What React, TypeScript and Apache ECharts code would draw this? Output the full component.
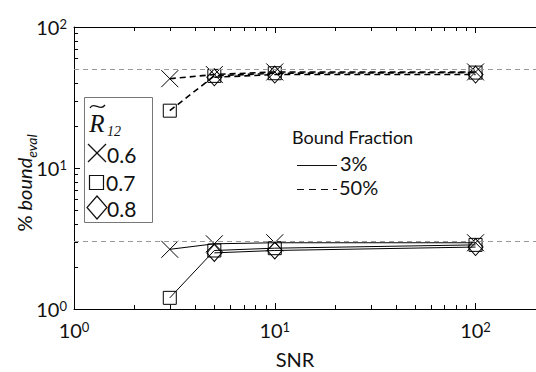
import React, { useEffect, useRef } from "react";
import * as echarts from "echarts";

// ---- data ----
const SNR = [3, 5, 10, 100];
const R_LEVELS = ["0.6", "0.7", "0.8"];
// 50% bound fraction (dashed)
const F50_R06 = [43, 46, 48, 48];
const F50_R07 = [25.5, 45, 47, 47.5];
const F50_R08 = [null, 44, 46, 46];
// 3% bound fraction (solid)
const F3_R06 = [2.65, 2.9, 2.95, 2.95];
const F3_R07 = [1.2, 2.6, 2.7, 2.85];
const F3_R08 = [null, 2.5, 2.6, 2.75];
const REF_LINES = [50, 3];
const MINOR_TICKS = [2, 3, 4, 5, 6, 7, 8, 9, 20, 30, 40, 50, 60, 70, 80, 90];
const FRACTIONS = ["3%", "50%"];

const SANS = "Lato";
const SERIF = "Liberation Serif";

const SYMBOLS: any[] = [
  { symbol: "path://M0,0L17,17M17,0L0,17", size: 17 },
  { symbol: "rect", size: 13 },
  { symbol: "diamond", size: [15, 17] },
];

function pairs(vals: (number | null)[]) {
  const out: number[][] = [];
  vals.forEach((v, i) => {
    if (v !== null) out.push([SNR[i], v]);
  });
  return out;
}

const labelRich = {
  b: { fontFamily: SANS, fontSize: 20, lineHeight: 20, padding: [7, 0, 0, 0], color: "#111", verticalAlign: "bottom" },
  sup: { fontFamily: SANS, fontSize: 13, lineHeight: 14, color: "#111", verticalAlign: "top" },
};
const powFmt = (v: number) => {
  const e = Math.log10(v);
  if (Math.abs(e - Math.round(e)) > 1e-6) return "";
  return `{b|10}{sup|${Math.round(e)}}`;
};

export default function App() {
  const ref = useRef<HTMLDivElement>(null);
  useEffect(() => {
    if (!ref.current) return;
    const chart = echarts.init(ref.current, undefined, { renderer: "svg" });

    const groups = [
      { vals: [F3_R06, F3_R07, F3_R08], dash: "solid" as any, width: 1 },
      { vals: [F50_R06, F50_R07, F50_R08], dash: [6, 4], width: 1.6 },
    ];
    const series: any[] = [];
    groups.forEach((g, gi) => {
      g.vals.forEach((vals, ri) => {
        series.push({
          type: "line",
          name: `${R_LEVELS[ri]} (${FRACTIONS[gi]})`,
          data: pairs(vals),
          symbol: SYMBOLS[ri].symbol,
          symbolSize: SYMBOLS[ri].size,
          showAllSymbol: true,
          itemStyle: { color: "transparent", borderColor: "#000", borderWidth: 1 },
          lineStyle: { color: "#000", width: g.width, type: g.dash },
          z: 3,
        });
      });
    });
    // reference lines
    series.push({
      type: "line",
      data: [],
      markLine: {
        silent: true,
        symbol: "none",
        label: { show: false },
        lineStyle: { color: "#999", type: [5, 4], width: 1 },
        data: REF_LINES.map((v) => ({ yAxis: v })),
      },
    });
    // minor ticks (x)
    series.push({
      type: "custom",
      silent: true,
      data: MINOR_TICKS.map((v) => [v, 1]),
      renderItem: (params: any, api: any) => {
        const cs = params.coordSys;
        const p = api.coord([api.value(0), api.value(1)]);
        const x = Math.round(p[0]) + 0.5;
        return {
          type: "group",
          children: [
            { type: "line", shape: { x1: x, y1: cs.y + cs.height, x2: x, y2: cs.y + cs.height - 4 }, style: { stroke: "#000", lineWidth: 1 } },
            { type: "line", shape: { x1: x, y1: cs.y, x2: x, y2: cs.y + 4 }, style: { stroke: "#000", lineWidth: 1 } },
          ],
        };
      },
    });
    // minor ticks (y)
    series.push({
      type: "custom",
      silent: true,
      data: MINOR_TICKS.map((v) => [1, v]),
      renderItem: (params: any, api: any) => {
        const cs = params.coordSys;
        const p = api.coord([api.value(0), api.value(1)]);
        const y = Math.round(p[1]) + 0.5;
        return {
          type: "line",
          shape: { x1: cs.x, y1: y, x2: cs.x + 4, y2: y },
          style: { stroke: "#000", lineWidth: 1 },
        };
      },
    });

    const legendX = 97;
    const graphic: any[] = [
      // y axis name
      {
        type: "text",
        x: 25,
        y: 183,
        rotation: Math.PI / 2,
        style: {
          text: "{n|% }{i|bound}{s|eval}",
          align: "center",
          verticalAlign: "middle",
          rich: {
            n: { fontFamily: SANS, fontSize: 20, lineHeight: 22, verticalAlign: "top", fill: "#111" },
            i: { fontFamily: SANS, fontSize: 20, fontStyle: "italic", lineHeight: 22, verticalAlign: "top", fill: "#111" },
            s: { fontFamily: SANS, fontSize: 14, fontStyle: "italic", lineHeight: 14, padding: [10, 0, 0, 0], verticalAlign: "top", fill: "#111" },
          },
        },
      },
      // x axis name
      {
        type: "text",
        x: 295,
        y: 359,
        style: { text: "SNR", fontFamily: SANS, fontSize: 20, fill: "#111", align: "center", verticalAlign: "middle" },
      },
      // R legend box
      { type: "rect", shape: { x: 84.5, y: 97.5, width: 68, height: 125 }, style: { fill: "#fff", stroke: "#777", lineWidth: 1 }, z: 10 },
      { type: "text", x: 97, y: 123, style: { text: "R", fontFamily: SERIF, fontStyle: "italic", fontSize: 25, fill: "#111", align: "center", verticalAlign: "middle" }, z: 11 },
      // tilde above R
      { type: "bezierCurve", shape: { x1: 90, y1: 108, cpx1: 94, cpy1: 101, cpx2: 100, cpy2: 112, x2: 105, y2: 105 }, style: { stroke: "#111", lineWidth: 1.3, fill: "none" }, z: 11 },
      { type: "text", x: 107, y: 131, style: { text: "12", fontFamily: SERIF, fontStyle: "italic", fontSize: 14, fill: "#111", align: "left", verticalAlign: "middle" }, z: 11 },
      // X marker
      { type: "line", shape: { x1: 88, y1: 144, x2: 106, y2: 162 }, style: { stroke: "#111", lineWidth: 1.2 }, z: 11 },
      { type: "line", shape: { x1: 106, y1: 144, x2: 88, y2: 162 }, style: { stroke: "#111", lineWidth: 1.2 }, z: 11 },
      { type: "text", x: 107, y: 154, style: { text: R_LEVELS[0], fontFamily: SANS, fontSize: 21, fill: "#111", align: "left", verticalAlign: "middle" }, z: 11 },
      // square marker
      { type: "rect", shape: { x: 89.5, y: 175.5, width: 14, height: 14 }, style: { fill: "none", stroke: "#111", lineWidth: 1.2 }, z: 11 },
      { type: "text", x: 106, y: 182, style: { text: R_LEVELS[1], fontFamily: SANS, fontSize: 21, fill: "#111", align: "left", verticalAlign: "middle" }, z: 11 },
      // diamond marker
      { type: "polygon", shape: { points: [[legendX, 196], [legendX + 10, 207.5], [legendX, 219], [legendX - 10, 207.5]] }, style: { fill: "none", stroke: "#111", lineWidth: 1.2 }, z: 11 },
      { type: "text", x: 107, y: 208, style: { text: R_LEVELS[2], fontFamily: SANS, fontSize: 21, fill: "#111", align: "left", verticalAlign: "middle" }, z: 11 },
      // bound fraction legend
      { type: "text", x: 292, y: 137, style: { text: "Bound Fraction", fontFamily: SANS, fontSize: 18, fill: "#111", align: "left", verticalAlign: "middle" }, z: 11 },
      { type: "line", shape: { x1: 297, y1: 165.5, x2: 337, y2: 165.5 }, style: { stroke: "#111", lineWidth: 1 }, z: 11 },
      { type: "text", x: 340, y: 163, style: { text: FRACTIONS[0], fontFamily: SANS, fontSize: 20, fill: "#111", align: "left", verticalAlign: "middle" }, z: 11 },
      { type: "line", shape: { x1: 297, y1: 189.5, x2: 337, y2: 189.5 }, style: { stroke: "#111", lineWidth: 1.2, lineDash: [7, 5] }, z: 11 },
      { type: "text", x: 339, y: 187, style: { text: FRACTIONS[1], fontFamily: SANS, fontSize: 20, fill: "#111", align: "left", verticalAlign: "middle" }, z: 11 },
    ];

    chart.setOption({
      animation: false,
      backgroundColor: "#fff",
      grid: { left: 74, top: 27, right: -7, bottom: 63, containLabel: false },
      xAxis: [
        {
          type: "log",
          logBase: 10,
          min: 1,
          max: 200,
          position: "bottom",
          axisLine: { show: true, lineStyle: { color: "#000", width: 1 } },
          axisTick: { show: true, inside: true, length: 6, lineStyle: { color: "#000" } },
          axisLabel: { formatter: powFmt, margin: 11, rich: labelRich, showMaxLabel: false },
          splitLine: { show: false },
        },
        {
          type: "log",
          logBase: 10,
          min: 1,
          max: 200,
          position: "top",
          axisLine: { show: true, lineStyle: { color: "#000", width: 1 } },
          axisTick: { show: true, inside: true, length: 6, lineStyle: { color: "#000" } },
          axisLabel: { show: false },
          splitLine: { show: false },
        },
      ],
      yAxis: {
        type: "log",
        logBase: 10,
        min: 1,
        max: 100,
        axisLine: { show: true, lineStyle: { color: "#000", width: 1 } },
        axisTick: { show: true, inside: true, length: 6, lineStyle: { color: "#000" } },
        axisLabel: { formatter: powFmt, margin: 7, rich: labelRich },
        splitLine: { show: false },
      },
      series,
      graphic,
    });
    return () => chart.dispose();
  }, []);
  return <div ref={ref} style={{ width: 536, height: 372, position: "absolute", left: 0, top: 0 }} />;
}
